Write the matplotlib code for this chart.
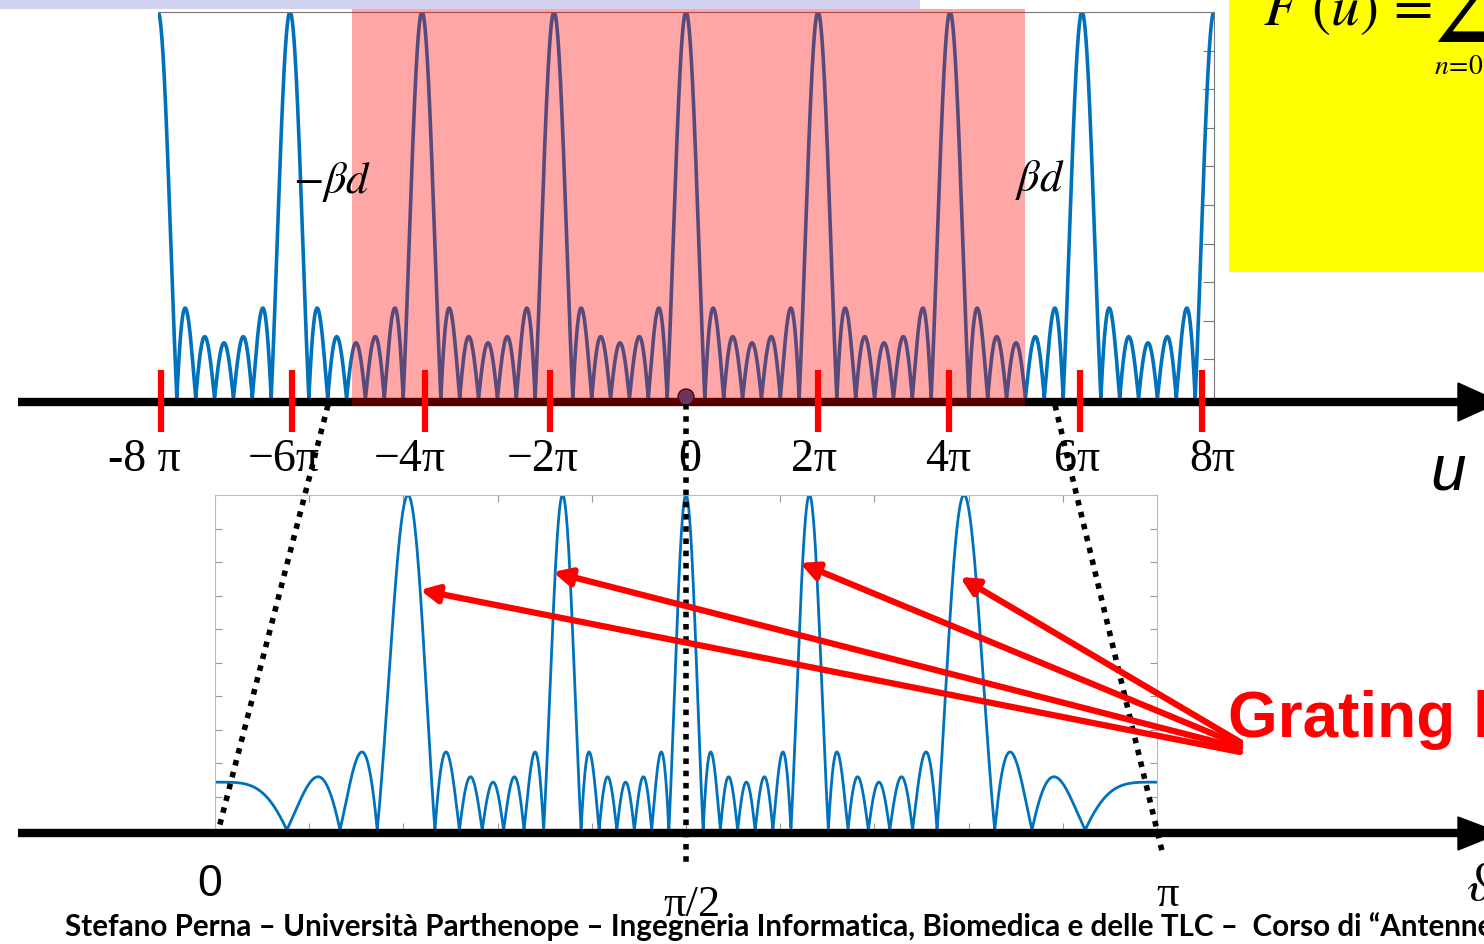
# Grating lobes slide: uniform array factor vs u (top) and vs theta (bottom)

import numpy as np
import matplotlib
matplotlib.use("Agg")
import matplotlib.pyplot as plt
from matplotlib import transforms
from matplotlib.patches import Rectangle, Polygon, Circle

plt.rcParams["mathtext.fontset"] = "stix"

W, H = 1484, 944

# Array parameters (read from the lobe structure: 5 side lobes -> N = 7, edge level 1/7 -> beta*d = 5 pi)
N_ELEM = 7
BETA_D_PI = 5.0

# Top axis ticks / labels (in units of pi)
TICK_POS_PI   = [-7.95, -5.97, -3.95, -2.06, 2.0, 3.98, 5.97, 7.82]
LABEL_POS_PI  = [-8.2, -6.1, -4.18, -2.17, 0.06, 1.94, 3.97, 5.92, 7.97]
LABEL_TEXT    = ["-8 π", "−6π", "−4π", "−2π", "0", "2π", "4π", "6π", "8π"]
SHADE_PI      = [-5.06, 5.14]

BLUE = "#0072bd"
FOOTER = ("Stefano Perna – Università Parthenope – Ingegneria Informatica, "
          "Biomedica e delle TLC –  Corso di “Antenne”")


def array_factor(u):
    s = np.sin(u / 2.0)
    small = np.abs(s) < 1e-12
    out = np.ones_like(u)
    out[~small] = np.abs(np.sin(N_ELEM * u[~small] / 2.0) / (N_ELEM * s[~small]))
    return out


u = np.linspace(-8 * np.pi, 8 * np.pi, 6001)
theta = np.linspace(0, np.pi, 4001)
af_u = array_factor(u)
af_t = array_factor(BETA_D_PI * np.pi * np.cos(theta))

fig = plt.figure(figsize=(W / 100, H / 100), dpi=100)


def frac(x0, y0, x1, y1):
    return [x0 / W, 1 - y1 / H, (x1 - x0) / W, (y1 - y0) / H]


# Top plot
ax1 = fig.add_axes(frac(158, 12, 1214, 398))
ax1.plot(u, af_u, color=BLUE, lw=2.6)
ax1.set_xlim(-8 * np.pi, 8 * np.pi)
ax1.set_ylim(0, 1)
ax1.set_xticks([])
ax1.yaxis.tick_right()
ax1.set_yticks(np.arange(0.1, 1.0, 0.1))
ax1.set_yticklabels([])
ax1.tick_params(axis="y", direction="in", length=8, color="#777777", width=0.8)
for side in ["left", "bottom"]:
    ax1.spines[side].set_visible(False)
for side in ["top", "right"]:
    ax1.spines[side].set_color("#777777")
    ax1.spines[side].set_linewidth(0.8)
ax1.patch.set_alpha(0)

# Bottom plot
ax2 = fig.add_axes(frac(215, 495, 1157, 830))
ax2.plot(theta, af_t, color=BLUE, lw=2.0)
ax2.set_xlim(0, np.pi)
ax2.set_ylim(0, 1)
ax2.set_xticks(np.arange(1, 10) * np.pi / 10)
ax2.set_yticks(np.arange(0.1, 1.0, 0.1))
ax2.set_xticklabels([])
ax2.set_yticklabels([])
ax2.tick_params(direction="in", length=5, color="#999999", width=0.8,
                top=True, right=True)
for side in ax2.spines:
    ax2.spines[side].set_color("#bbbbbb")
    ax2.spines[side].set_linewidth(0.8)
ax2.patch.set_alpha(0)

# Overlay in pixel coordinates
ov = fig.add_axes([0, 0, 1, 1])
ov.set_xlim(0, W)
ov.set_ylim(H, 0)
ov.axis("off")
ov.patch.set_alpha(0)

utr = transforms.blended_transform_factory(ax1.transData, ov.transData)

ov.add_patch(Rectangle((0, 0), 920, 9, color="#d0d2f0", lw=0, zorder=1))
ov.add_patch(Rectangle((1229, 0), W - 1229, 272, color="#ffff00", lw=0, zorder=1))

# axes lines with arrows
for y in (402, 833):
    ov.plot([18, 1462], [y, y], color="black", lw=6, solid_capstyle="butt", zorder=2)
ov.add_patch(Polygon([(1458, 383), (1458, 421), (1500, 402)], color="black", zorder=2))
ov.add_patch(Polygon([(1458, 817), (1458, 850), (1500, 833)], color="black", zorder=2))

# visible region shading
ov.add_patch(Rectangle((SHADE_PI[0] * np.pi, 9), (SHADE_PI[1] - SHADE_PI[0]) * np.pi, 397,
                       transform=utr, facecolor="red", alpha=0.35, lw=0, zorder=3))
ov.add_patch(Circle((686, 397), 8, facecolor="#6b3560", edgecolor="#5a0000", lw=1, zorder=4))

# red ticks
for t in TICK_POS_PI:
    ov.plot([t * np.pi, t * np.pi], [370, 432], color="red", lw=4.5,
            solid_capstyle="butt", transform=utr, zorder=5)

for x, s in zip(LABEL_POS_PI, LABEL_TEXT):
    ov.text(x * np.pi, 460, s, transform=utr, ha="center", va="center",
            fontsize=33, family="Liberation Serif", zorder=6)

# dotted mapping lines
dot = dict(color="black", lw=4, linestyle=(0, (1.0, 1.2)), zorder=6)
ov.plot([328, 219], [405, 828], **dot)
ov.plot([1055, 1162], [405, 851], **dot)
ov.plot([686, 686], [404, 866], **dot)

# labels
ov.text(293, 182, r"$-\beta d$", fontsize=32, ha="left", va="center", zorder=6)
ov.text(1015, 180, r"$\beta d$", fontsize=32, ha="left", va="center", zorder=6)
ov.text(1448, 472, "u", fontsize=46, style="italic", family="Liberation Sans",
        ha="center", va="center")
ov.text(1466, 885, r"$\vartheta$", fontsize=38, ha="left", va="center")
ov.text(210, 885, "0", fontsize=32, family="Liberation Sans", ha="center", va="center")
ov.text(692, 905, "π/2", fontsize=32, family="Liberation Serif", ha="center", va="center")
ov.text(1168, 895, "π", fontsize=32, family="Liberation Serif", ha="center", va="center")

# formula in yellow box
ov.text(1263, 25, r"$F\ (u)\, =$", fontsize=41, ha="left", va="baseline", zorder=6)
ov.text(1432, 44, r"$\sum$", fontsize=58, ha="left", va="bottom", zorder=6)
ov.text(1434, 74, r"$n\!=\!0$", fontsize=20, ha="left", va="baseline", zorder=6)

# grating lobe arrows
heads = [(420, 590), (553, 572), (800, 563), (960, 577)]
tails = [(1240, 752), (1240, 748), (1240, 745), (1240, 742)]
for (hx, hy), (tx, ty) in zip(heads, tails):
    ov.annotate("", xy=(hx, hy), xytext=(tx, ty),
                arrowprops=dict(arrowstyle="-|>", color="red", lw=4.5,
                                mutation_scale=26, shrinkA=0, shrinkB=0), zorder=7)
ov.text(1228, 737, "Grating lobes", color="red", fontsize=46, fontweight="bold",
        family="Liberation Sans", ha="left", va="baseline", zorder=7)

ov.text(65, 927, FOOTER, fontsize=21.3, fontweight="bold", family="Lato",
        ha="left", va="center", zorder=7)

fig.savefig("out.png", dpi=100)
